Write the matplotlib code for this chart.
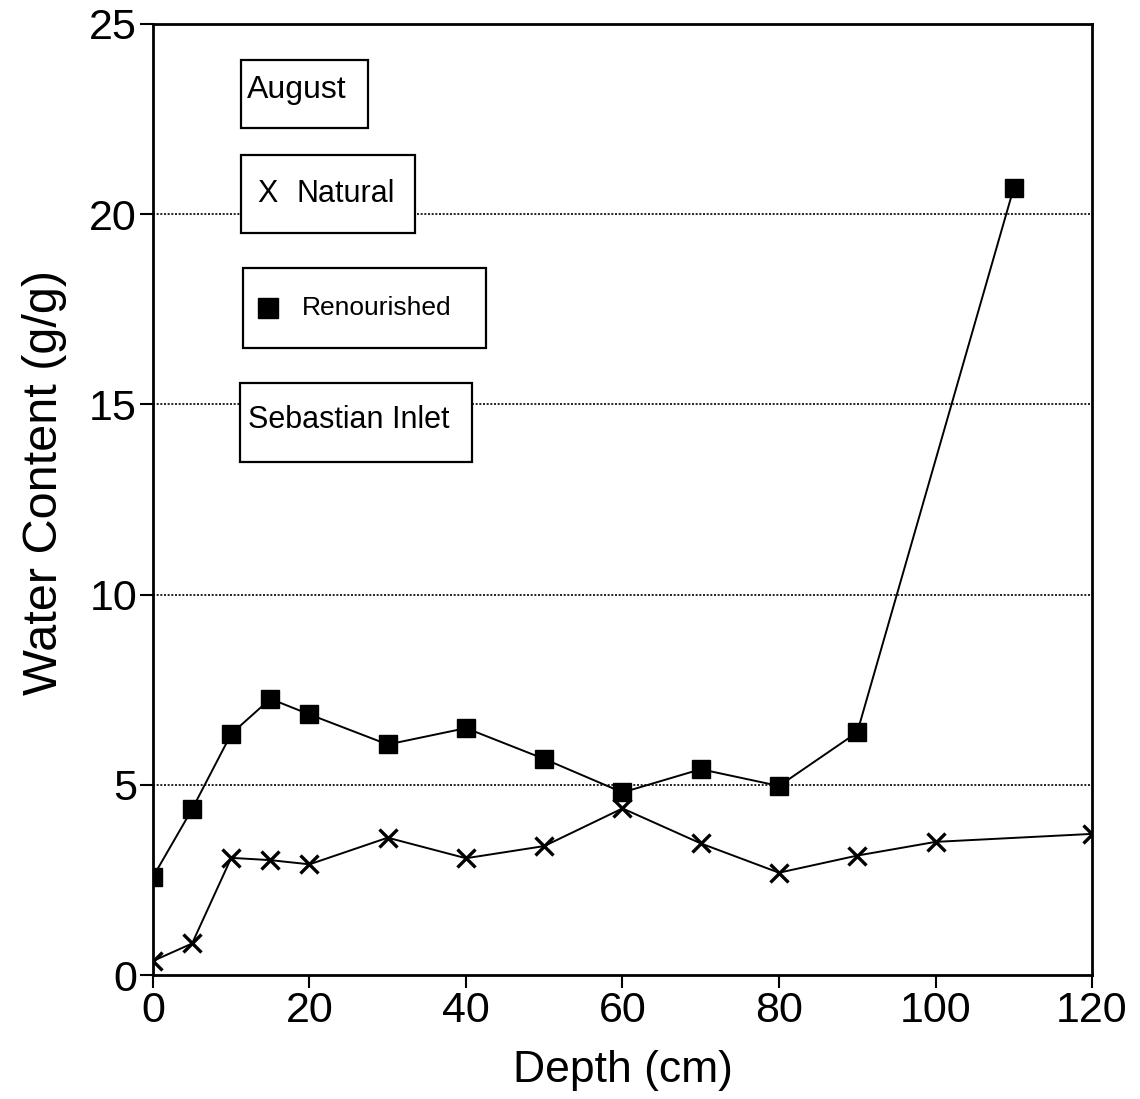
import numpy as np
import matplotlib
matplotlib.use("Agg")
from matplotlib import pyplot as plt
from matplotlib.patches import Rectangle

plt.rcParams['font.family'] = ['Liberation Sans', 'DejaVu Sans']

# water content by depth, August, Sebastian Inlet
depth_natural = [0, 5, 10, 15, 20, 30, 40, 50, 60, 70, 80, 90, 100, 120]
natural = [0.37, 0.83, 3.08, 3.02, 2.91, 3.61, 3.07, 3.39, 4.38, 3.46, 2.69, 3.14, 3.50, 3.71]

depth_renourished = [0, 5, 10, 15, 20, 30, 40, 50, 60, 70, 80, 90, 110]
renourished = [2.58, 4.36, 6.34, 7.26, 6.85, 6.06, 6.49, 5.68, 4.80, 5.41, 4.97, 6.38, 20.69]

x_ticks = [0, 20, 40, 60, 80, 100, 120]
y_ticks = [0, 5, 10, 15, 20, 25]

fig = plt.figure(figsize=(11.4, 10.99), dpi=100)
ax = fig.add_axes([0.1342, 0.1128, 0.8237, 0.8654])

for yv in [5, 10, 15, 20]:
    ax.axhline(yv, color='black', lw=1.2, ls=(0, (1.2, 1.0)), zorder=1)

ax.plot(depth_renourished, renourished, color='black', lw=1.4,
        marker='s', ms=13, mfc='black', mec='black', zorder=3)
ax.plot(depth_natural, natural, color='black', lw=1.4,
        marker='x', ms=13, mew=2.4, zorder=3)

ax.set_xlim(0, 120)
ax.set_ylim(0, 25)
ax.set_xticks(x_ticks)
ax.set_yticks(y_ticks)
ax.tick_params(direction='out', length=9.5, width=1.5, labelsize=31, pad=2)
for s in ax.spines.values():
    s.set_linewidth(2)

ax.set_xlabel('Depth (cm)', fontsize=32, labelpad=14)
ax.set_ylabel('Water Content (g/g)', fontsize=35, labelpad=16)
ax.yaxis.label.set_y(0.518)

# boxed annotations
def box(x0, y0, w, h):
    ax.add_patch(Rectangle((x0, y0), w, h, transform=ax.transAxes,
                           facecolor='white', edgecolor='black', lw=1.6,
                           zorder=4, clip_on=False))

box(0.0937, 0.8906, 0.1352, 0.0715)
ax.text(0.1001, 0.9310, 'August', transform=ax.transAxes, fontsize=23,
        va='center', ha='left', zorder=5)

box(0.0937, 0.7802, 0.1853, 0.0821)
ax.text(0.1114, 0.8210, 'X', transform=ax.transAxes, fontsize=22,
        va='center', ha='left', zorder=5)
ax.text(0.1533, 0.8210, 'Natural', transform=ax.transAxes, fontsize=22,
        va='center', ha='left', zorder=5)

box(0.0958, 0.6593, 0.2588, 0.0841)
ax.plot([0.123], [0.7014], transform=ax.transAxes, marker='s', ms=15,
        color='black', zorder=5, clip_on=False)
ax.text(0.1587, 0.7014, 'Renourished', transform=ax.transAxes, fontsize=19,
        va='center', ha='left', zorder=5)

box(0.0927, 0.5394, 0.2471, 0.0831)
ax.text(0.1011, 0.5836, 'Sebastian Inlet', transform=ax.transAxes, fontsize=22,
        va='center', ha='left', zorder=5)

fig.savefig('out.png', dpi=100)
